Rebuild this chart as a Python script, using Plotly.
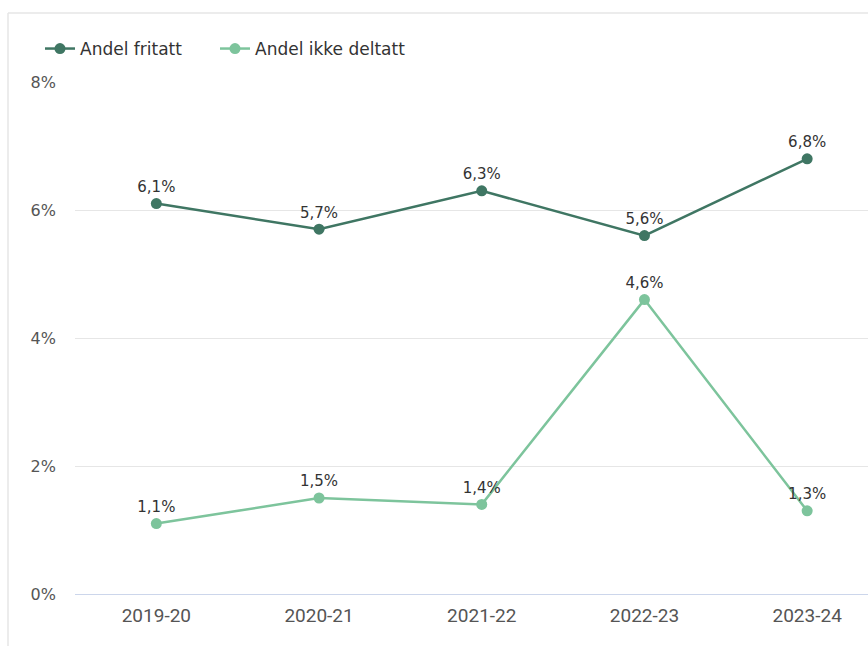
import plotly.graph_objects as go

categories = ["2019-20", "2020-21", "2021-22", "2022-23", "2023-24"]
andel_fritatt = [6.1, 5.7, 6.3, 5.6, 6.8]
andel_ikke_deltatt = [1.1, 1.5, 1.4, 4.6, 1.3]
series_names = ["Andel fritatt", "Andel ikke deltatt"]
y_ticks = [0, 2, 4, 6, 8]
y_tick_labels = ["0%", "2%", "4%", "6%", "8%"]

dark = "#3f7663"
light = "#7dc49c"

def fmt(v):
    return f"{v:.1f}".replace(".", ",") + "%"

fig = go.Figure()
for name, vals, col, lg in [(series_names[0], andel_fritatt, dark, "legend"),
                            (series_names[1], andel_ikke_deltatt, light, "legend2")]:
    fig.add_trace(go.Scatter(
        x=list(range(len(categories))), y=vals, name=name,
        mode="lines+markers+text",
        text=[fmt(v) for v in vals], textposition="top center",
        textfont=dict(family="DejaVu Sans, sans-serif", size=15, color="#333333"),
        line=dict(color=col, width=2.5),
        marker=dict(color=col, size=11),
        cliponaxis=False, legend=lg,
    ))

W, H = 868, 646
ml, mr, mt, mb = 75, 0, 82, 52
pw = W - ml - mr
ph = H - mt - mb
band = 162.7
x_hi = -0.5 + pw / band

legend_font = dict(family="DejaVu Sans, sans-serif", size=17, color="#333333")
fig.update_layout(
    width=W, height=H,
    margin=dict(l=ml, r=mr, t=mt, b=mb),
    paper_bgcolor="white", plot_bgcolor="white",
    showlegend=True,
    legend=dict(orientation="h", xref="container", yref="container",
                x=40 / W, y=1 - 49 / H, xanchor="left", yanchor="middle",
                font=legend_font, itemwidth=30, bgcolor="rgba(0,0,0,0)"),
    legend2=dict(orientation="h", xref="container", yref="container",
                 x=215 / W, y=1 - 49 / H, xanchor="left", yanchor="middle",
                 font=legend_font, itemwidth=30, bgcolor="rgba(0,0,0,0)"),
    xaxis=dict(tickmode="array", tickvals=list(range(len(categories))), ticktext=categories,
               range=[-0.5, x_hi], showgrid=False, showline=True, linecolor="#ccd6eb",
               linewidth=1, ticks="", zeroline=False, ticklabelstandoff=4,
               tickfont=dict(family="Roboto, Liberation Sans, sans-serif", size=19, color="#555555")),
    yaxis=dict(tickmode="array", tickvals=y_ticks, ticktext=y_tick_labels, range=[0, 8],
               showgrid=True, gridcolor="#e6e6e6", gridwidth=1, zeroline=False,
               ticks="", ticklabelstandoff=18,
               tickfont=dict(family="DejaVu Sans, sans-serif", size=16, color="#555555")),
    shapes=[
        dict(type="line", xref="paper", yref="paper",
             x0=(8 - ml) / pw, x1=(8 - ml) / pw, y0=(H - mb - 13) / ph, y1=(H - mb - 646) / ph,
             line=dict(color="#e6e6e6", width=1.5)),
        dict(type="line", xref="paper", yref="paper",
             x0=(8 - ml) / pw, x1=1.0, y0=(H - mb - 13) / ph, y1=(H - mb - 13) / ph,
             line=dict(color="#e6e6e6", width=1.5)),
    ],
)
fig.write_html("out.html", config={"displayModeBar": False},
               post_script="document.body.style.margin='0';document.body.style.overflow='hidden';")
